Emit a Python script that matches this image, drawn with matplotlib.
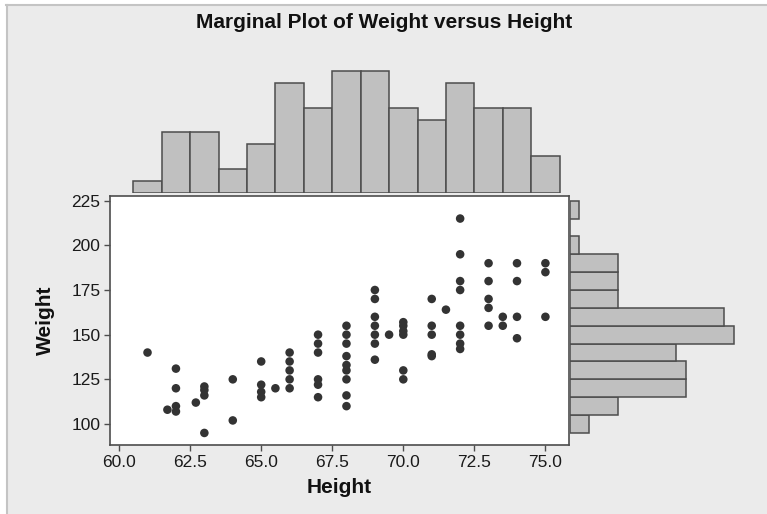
import matplotlib
matplotlib.use("Agg")
import matplotlib.pyplot as plt
from matplotlib.patches import Rectangle
from matplotlib.lines import Line2D

plt.rcParams['font.family'] = ['Liberation Sans', 'DejaVu Sans']

# ---- data ----
height = [61, 61.7,
          62, 62, 62, 62,
          62.7,
          63, 63, 63, 63,
          64, 64,
          65, 65, 65, 65,
          65.5,
          66, 66, 66, 66, 66,
          67, 67, 67, 67, 67, 67,
          68, 68, 68, 68, 68, 68, 68, 68, 68,
          69, 69, 69, 69, 69, 69, 69,
          69.5,
          70, 70, 70, 70, 70, 70,
          71, 71, 71, 71, 71,
          71.5,
          72, 72, 72, 72, 72, 72, 72, 72,
          73, 73, 73, 73, 73,
          73.5, 73.5,
          74, 74, 74, 74,
          75, 75, 75]
weight = [140, 108,
          131, 120, 110, 107,
          112,
          121, 119, 116, 95,
          125, 102,
          135, 122, 118, 115,
          120,
          140, 135, 130, 125, 120,
          150, 145, 140, 125, 122, 115,
          155, 150, 145, 138, 133, 130, 125, 116, 110,
          175, 170, 160, 155, 150, 145, 136,
          150,
          157, 155, 152, 150, 130, 125,
          170, 155, 150, 139, 138,
          164,
          215, 195, 180, 175, 155, 150, 145, 142,
          190, 180, 170, 165, 155,
          160, 155,
          190, 180, 160, 148,
          190, 185, 160]

# marginal histogram counts
height_bins = [61, 62, 63, 64, 65, 66, 67, 68, 69, 70, 71, 72, 73, 74, 75]
height_counts = [1, 5, 5, 2, 4, 9, 7, 10, 10, 7, 6, 9, 7, 7, 3]
weight_bins = [100, 110, 120, 130, 140, 150, 160, 170, 180, 190, 200, 210, 220]
weight_counts = [2, 5, 12, 12, 11, 17, 16, 5, 5, 5, 1, 0, 1]

x_ticks = [60.0, 62.5, 65.0, 67.5, 70.0, 72.5, 75.0]
y_ticks = [100, 125, 150, 175, 200, 225]

title = "Marginal Plot of Weight versus Height"
xlabel = "Height"
ylabel = "Weight"

# ---- layout ----
W, H = 767, 514
fig = plt.figure(figsize=(W / 100, H / 100), dpi=100, facecolor='white')

bg = '#ebebeb'
fig.patches.append(Rectangle((6 / W, 0), 1, 1 - 4 / H, transform=fig.transFigure,
                             facecolor=bg, edgecolor='none', zorder=-10))
fig.lines.append(Line2D([6 / W, 1], [1 - 4.5 / H, 1 - 4.5 / H], transform=fig.transFigure,
                        color='#c4c4c4', lw=1.5))
fig.lines.append(Line2D([6.5 / W, 6.5 / W], [0, 1 - 4.5 / H], transform=fig.transFigure,
                        color='#c4c4c4', lw=1.5))


def px_axes(x0, x1, y0, y1):
    return fig.add_axes([x0 / W, 1 - y1 / H, (x1 - x0) / W, (y1 - y0) / H])


main_l, main_r, main_t, main_b = 110, 569, 195.5, 445
ax = px_axes(main_l, main_r, main_t, main_b)
axt = px_axes(main_l, main_r, 60, 193)
axr = px_axes(main_r + 0.5, W, main_t, main_b)

xlim = (59.68, 75.83)
ylim = (88.25, 227.9)

bar_face = '#c0c0c0'
bar_edge = '#4d4d4d'
dot = '#333333'
frame = '#4d4d4d'

ax.set_facecolor('white')
ax.scatter(height, weight, s=38, color=dot, edgecolors='none', zorder=3)
ax.set_xlim(*xlim)
ax.set_ylim(*ylim)
ax.set_xticks(x_ticks)
ax.set_xticklabels([f"{v:.1f}" for v in x_ticks])
ax.set_yticks(y_ticks)
ax.tick_params(direction='out', length=4, width=1, color=frame, labelsize=12.5,
               labelcolor='#1a1a1a', pad=3)
for s in ax.spines.values():
    s.set_color(frame)
    s.set_linewidth(1.2)
ax.set_xlabel(xlabel, fontsize=15, fontweight='bold', labelpad=6, color='#111111')
ax.set_ylabel(ylabel, fontsize=15, fontweight='bold', labelpad=12, color='#111111')

# top histogram
axt.bar(height_bins, height_counts, width=1.0, color=bar_face, edgecolor=bar_edge,
        linewidth=1.1, align='center')
axt.set_xlim(*xlim)
axt.set_ylim(0, 133 / 12.17)
axt.axis('off')

# right histogram
axr.barh(weight_bins, weight_counts, height=10, color=bar_face, edgecolor=bar_edge,
         linewidth=1.1, align='center')
axr.set_ylim(*ylim)
axr.set_xlim(0, (W - main_r) / 9.7)
axr.axis('off')

fig.text(384 / W, 1 - 23 / H, title, ha='center', va='center', fontsize=15,
         fontweight='bold', color='#111111')

fig.savefig('out.png', dpi=100, facecolor=fig.get_facecolor())
